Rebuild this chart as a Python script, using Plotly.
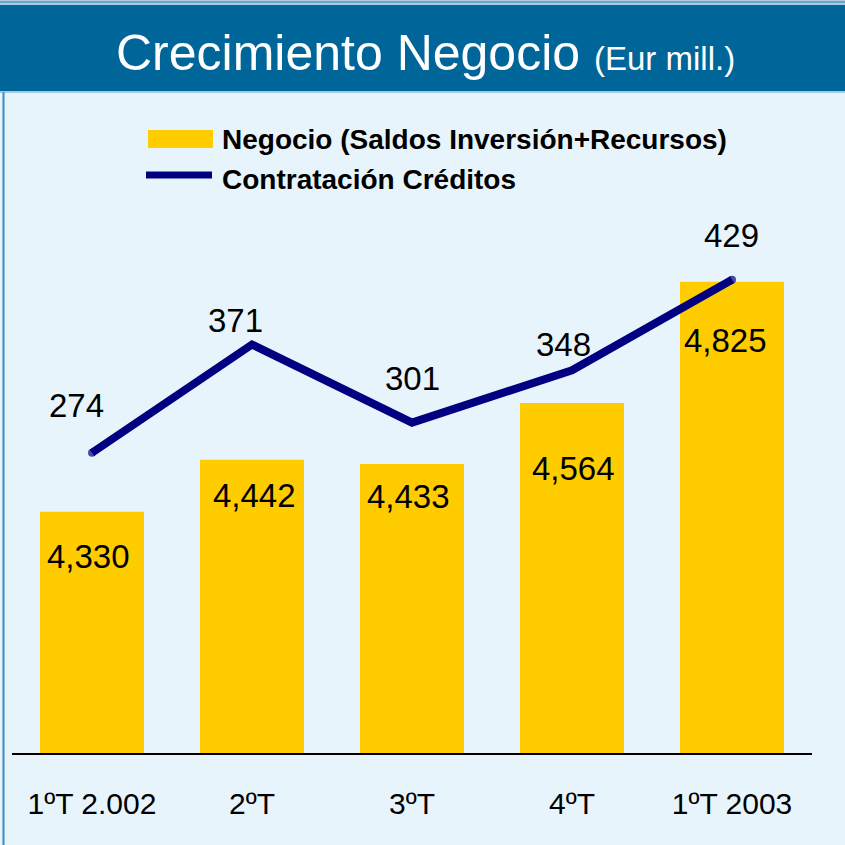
import plotly.graph_objects as go

# chart values
quarters = ["1ºT 2.002", "2ºT", "3ºT", "4ºT", "1ºT 2003"]
negocio = [4330, 4442, 4433, 4564, 4825]
contratacion = [274, 371, 301, 348, 429]

# label nudges (pixels) to sit like the original slide
bar_label_dx = [-4, 2, -4, 1, -7]
bar_label_dy = [-45, -36, -33, -65, -59]
line_label_dx = [-16, -17, 0, -9, -1]
line_label_dy = [47, 24, 44, 26, 44]

W = 845
FONT = "Liberation Sans, Arial, sans-serif"
BG = "#E8F4FC"
BLUE = "#006699"
GOLD = "#FFCC00"
NAVY = "#000080"


def px(x):
    return x / W


def py(y):
    return 1 - y / W


fig = go.Figure()

fig.add_trace(go.Bar(
    x=quarters, y=negocio, marker=dict(color=GOLD, line=dict(width=0)),
    width=0.65, name="Negocio (Saldos Inversión+Recursos)", hoverinfo="x+y",
))
fig.add_trace(go.Scatter(
    x=quarters, y=contratacion, yaxis="y2", mode="lines+markers",
    line=dict(color=NAVY, width=8),
    marker=dict(color=NAVY, size=[8, 0, 0, 0, 8], line=dict(width=0)),
    name="Contratación Créditos",
))

annotations = []
for i, q in enumerate(quarters):
    annotations.append(dict(
        x=q, y=negocio[i], xref="x", yref="y", text=f"{negocio[i]:,}",
        showarrow=False, yanchor="middle", xshift=bar_label_dx[i], yshift=bar_label_dy[i],
        font=dict(family=FONT, size=33, color="black"),
    ))
    annotations.append(dict(
        x=q, y=contratacion[i], xref="x", yref="y2", text=str(contratacion[i]),
        showarrow=False, yanchor="middle", xshift=line_label_dx[i], yshift=line_label_dy[i],
        font=dict(family=FONT, size=33, color="black"),
    ))

# title
annotations.append(dict(
    x=px(425), y=py(53), xref="paper", yref="paper", showarrow=False,
    text="Crecimiento Negocio <span style='font-size:33px'>(Eur mill.)</span>",
    xanchor="center", yanchor="middle", font=dict(family=FONT, size=50, color="white"),
))
# hand-drawn legend text
annotations.append(dict(
    x=px(220), y=py(139), xref="paper", yref="paper", showarrow=False,
    text="<b>Negocio (Saldos Inversión+Recursos)</b>", xanchor="left", yanchor="middle",
    font=dict(family=FONT, size=28, color="black"),
))
annotations.append(dict(
    x=px(220), y=py(179), xref="paper", yref="paper", showarrow=False,
    text="<b>Contratación Créditos</b>", xanchor="left", yanchor="middle",
    font=dict(family=FONT, size=28, color="black"),
))

shapes = [
    # header band
    dict(type="rect", xref="paper", yref="paper", x0=0, x1=1, y0=py(5), y1=1,
         fillcolor="#A9CCE0", line=dict(width=0), layer="below"),
    dict(type="line", xref="paper", yref="paper", x0=0, x1=1, y0=py(2), y1=py(2),
         line=dict(color="#2F7FB0", width=1)),
    dict(type="rect", xref="paper", yref="paper", x0=0, x1=1, y0=py(91), y1=py(5),
         fillcolor=BLUE, line=dict(width=0)),
    dict(type="line", xref="paper", yref="paper", x0=0, x1=1, y0=py(92), y1=py(92),
         line=dict(color="#8DBBD6", width=1.5)),
    dict(type="line", xref="paper", yref="paper", x0=px(3.5), x1=px(3.5), y0=0, y1=py(92),
         line=dict(color="#3B8CC2", width=2)),
    # legend swatches
    dict(type="rect", xref="paper", yref="paper", x0=px(148), x1=px(213), y0=py(148), y1=py(130),
         fillcolor=GOLD, line=dict(width=0)),
    dict(type="line", xref="paper", yref="paper", x0=px(146), x1=px(212), y0=py(175), y1=py(175),
         line=dict(color=NAVY, width=7)),
]

fig.update_layout(
    width=W, height=W,
    margin=dict(l=0, r=0, t=0, b=0, autoexpand=False),
    paper_bgcolor=BG, plot_bgcolor=BG,
    showlegend=False,
    bargap=0.35,
    xaxis=dict(
        domain=[px(12), px(812)], showgrid=False, zeroline=False,
        showline=True, linecolor="black", linewidth=2, ticks="",
        ticklabelstandoff=23,
        tickfont=dict(family=FONT, size=30, color="black"),
    ),
    yaxis=dict(
        domain=[py(753), py(200)], range=[3811, 5001], visible=False,
    ),
    yaxis2=dict(
        domain=[py(753), py(200)], range=[5, 500.5], overlaying="y", visible=False,
    ),
    annotations=annotations,
    shapes=shapes,
)

# drop the page's default body margin so the slide fills the window
fig.write_html(
    "out.html",
    config={"displayModeBar": False},
    post_script="document.body.style.margin='0';",
)
